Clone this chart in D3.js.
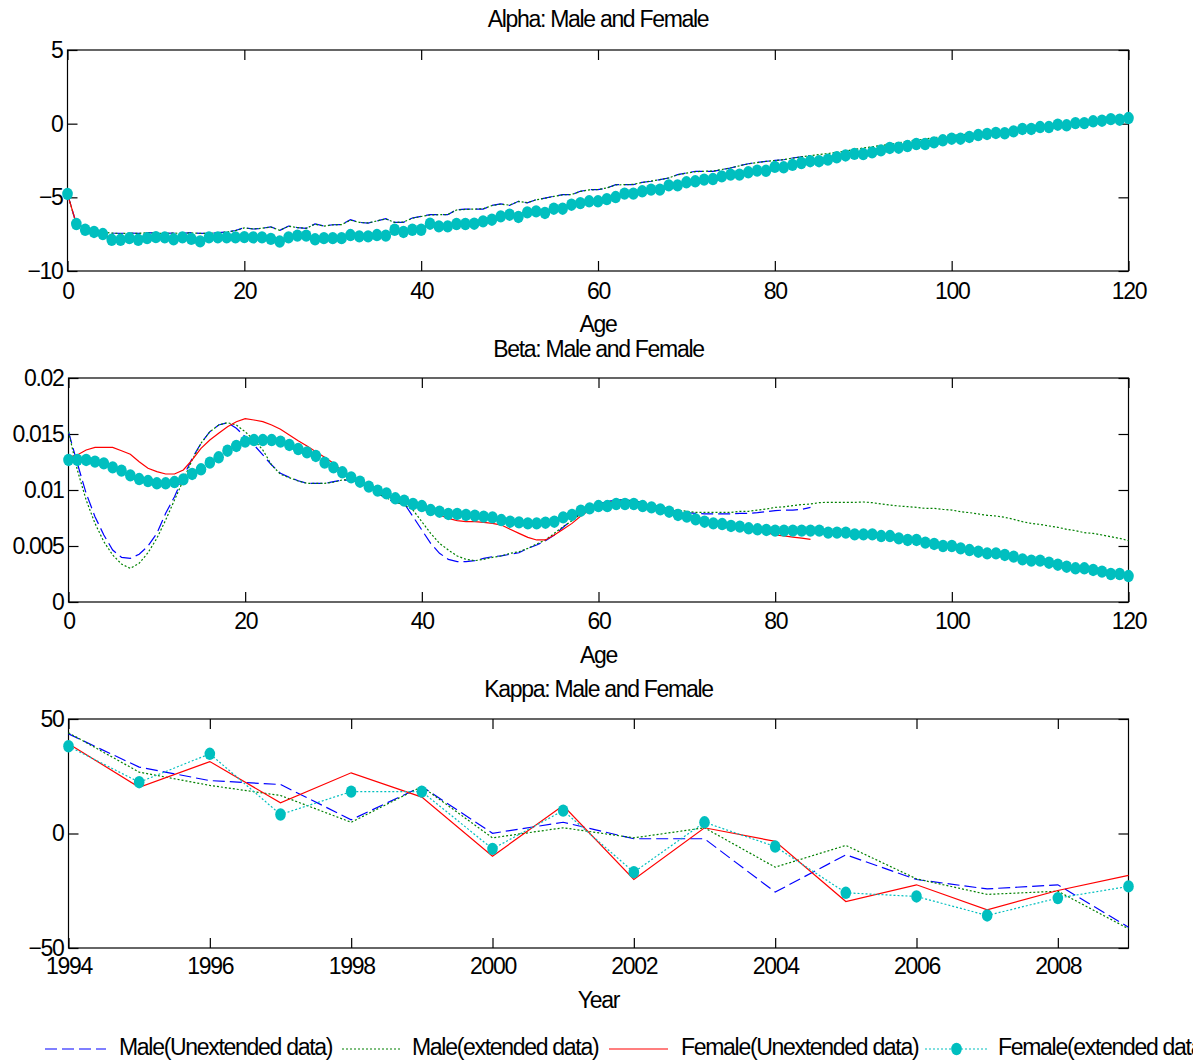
<!DOCTYPE html>
<html>
<head>
<meta charset="utf-8">
<script src="https://cdn.jsdelivr.net/npm/d3@7"></script>
<style>
  html, body { margin: 0; padding: 0; background: #fff; }
  svg { display: block; }
  text { font-family: "Liberation Sans", Arial, sans-serif; font-size: 23px; letter-spacing: -1.3px; fill: #000; }
</style>
</head>
<body>
<svg id="chart" width="1193" height="1064"></svg>
<script>
// ---------------- DATA ----------------
const legendLabels = ["Male(Unextended data)", "Male(extended data)", "Female(Unextended data)", "Female(extended data)"];
const panelTitles = ["Alpha: Male and Female", "Beta: Male and Female", "Kappa: Male and Female"];

// Ages 0..120 (extended data) ; unextended data covers ages 0..84
const agesExt = d3.range(0, 121);
const agesUnext = d3.range(0, 85);

const ageTicks = [0, 20, 40, 60, 80, 100, 120];
const alphaTicks = [-10, -5, 0, 5];
const betaTicks = [0, 0.005, 0.01, 0.015, 0.02];
const kappaTicksY = [-50, 0, 50];
const yearTicks = [1994, 1996, 1998, 2000, 2002, 2004, 2006, 2008];

// ---- Alpha ----
const alphaMaleUnext = [-4.77,-6.8,-7.1,-7.25,-7.35,-7.42,-7.45,-7.42,-7.45,-7.4,
  -7.42,-7.45,-7.42,-7.45,-7.4,-7.45,-7.45,-7.4,-7.35,-7.25,
  -7.06,-7.15,-7.1,-7.0,-7.25,-6.95,-7.05,-7.1,-6.8,-6.95,
  -6.86,-6.85,-6.52,-6.7,-6.75,-6.6,-6.45,-6.7,-6.7,-6.4,
  -6.29,-6.18,-6.18,-6.18,-5.84,-5.8,-5.8,-5.8,-5.55,-5.45,
  -5.55,-5.27,-5.38,-5.16,-5.05,-4.93,-4.82,-4.82,-4.59,-4.48,
  -4.48,-4.37,-4.14,-4.14,-4.14,-3.98,-3.91,-3.8,-3.69,-3.46,
  -3.35,-3.24,-3.24,-3.24,-3.12,-3.01,-2.85,-2.72,-2.63,-2.56,
  -2.49,-2.45,-2.33,-2.25,-2.16];
const alphaMaleExt = [-4.77,-6.82,-7.12,-7.27,-7.36,-7.43,-7.46,-7.43,-7.45,-7.41,
  -7.43,-7.45,-7.43,-7.45,-7.41,-7.45,-7.45,-7.41,-7.36,-7.26,
  -7.08,-7.15,-7.1,-7.02,-7.24,-6.97,-7.05,-7.1,-6.82,-6.95,
  -6.87,-6.85,-6.55,-6.7,-6.74,-6.6,-6.47,-6.7,-6.68,-6.42,
  -6.3,-6.2,-6.18,-6.17,-5.86,-5.82,-5.8,-5.78,-5.56,-5.46,
  -5.53,-5.28,-5.36,-5.17,-5.06,-4.94,-4.83,-4.81,-4.6,-4.5,
  -4.47,-4.36,-4.16,-4.14,-4.12,-3.99,-3.9,-3.8,-3.68,-3.47,
  -3.36,-3.26,-3.23,-3.22,-3.11,-3.0,-2.86,-2.73,-2.64,-2.56,
  -2.5,-2.44,-2.34,-2.25,-2.17,-2.1,-2.03,-1.95,-1.86,-1.75,
  -1.65,-1.57,-1.48,-1.4,-1.3,-1.2,-1.12,-1.04,-0.96,-0.88,
  -0.81,-0.75,-0.7,-0.64,-0.58,-0.52,-0.46,-0.4,-0.33,-0.26,
  -0.18,-0.14,-0.09,-0.04,0.0,0.04,0.1,0.16,0.24,0.31,0.38];
const alphaFemaleUnext = [-4.77,-6.8,-7.18,-7.33,-7.47,-7.85,-7.86,-7.76,-7.86,-7.76,
  -7.7,-7.72,-7.83,-7.72,-7.8,-7.96,-7.72,-7.72,-7.71,-7.71,
  -7.7,-7.71,-7.71,-7.8,-7.97,-7.72,-7.6,-7.61,-7.83,-7.76,
  -7.76,-7.76,-7.56,-7.64,-7.64,-7.56,-7.59,-7.22,-7.34,-7.21,
  -7.19,-6.8,-6.96,-6.96,-6.82,-6.8,-6.78,-6.63,-6.52,-6.3,
  -6.19,-6.32,-6.03,-5.96,-6.05,-5.78,-5.76,-5.51,-5.4,-5.28,
  -5.26,-5.12,-4.98,-4.76,-4.74,-4.6,-4.48,-4.47,-4.2,-4.18,
  -3.98,-3.92,-3.8,-3.75,-3.58,-3.47,-3.45,-3.3,-3.2,-3.19,
  -2.94,-2.95,-2.8,-2.67,-2.56];
const alphaFemaleExt = [-4.77,-6.81,-7.2,-7.35,-7.49,-7.88,-7.88,-7.77,-7.88,-7.77,
  -7.7,-7.72,-7.85,-7.72,-7.82,-7.99,-7.72,-7.72,-7.72,-7.72,
  -7.7,-7.72,-7.72,-7.82,-8.0,-7.72,-7.6,-7.6,-7.85,-7.77,
  -7.77,-7.77,-7.56,-7.65,-7.65,-7.56,-7.6,-7.2,-7.35,-7.2,
  -7.2,-6.79,-6.97,-6.97,-6.81,-6.81,-6.79,-6.63,-6.52,-6.29,
  -6.18,-6.33,-6.02,-5.95,-6.06,-5.77,-5.77,-5.5,-5.39,-5.27,
  -5.27,-5.12,-4.98,-4.75,-4.75,-4.59,-4.48,-4.48,-4.19,-4.19,
  -3.98,-3.91,-3.8,-3.76,-3.58,-3.46,-3.46,-3.3,-3.19,-3.2,
  -2.93,-2.96,-2.8,-2.67,-2.55,-2.55,-2.44,-2.28,-2.16,-2.05,
  -2.06,-1.95,-1.81,-1.65,-1.63,-1.52,-1.38,-1.38,-1.27,-1.13,
  -1.02,-1.02,-0.9,-0.77,-0.7,-0.63,-0.65,-0.52,-0.36,-0.36,
  -0.23,-0.23,-0.07,-0.11,0.04,0.04,0.16,0.2,0.31,0.27,0.38];

// ---- Beta ----
const betaMaleUnext = [0.0152,0.01238,0.0097,0.00762,0.00598,0.00464,0.00399,0.0039,0.00426,0.005,
  0.00613,0.00792,0.0094,0.01119,0.01283,0.01417,0.0152,0.0158,0.01601,0.01551,
  0.01476,0.01402,0.01313,0.01223,0.01149,0.01113,0.01083,0.0106,0.0106,0.0106,
  0.01074,0.01089,0.01089,0.0106,0.01015,0.0097,0.00926,0.00887,0.00881,0.00762,
  0.00643,0.00524,0.00435,0.00381,0.0036,0.0036,0.00369,0.0039,0.00405,0.00412,
  0.00426,0.0044,0.00479,0.00509,0.00547,0.00598,0.00667,0.00732,0.00792,0.00845,
  0.00875,0.00896,0.00911,0.00911,0.00905,0.00887,0.00866,0.00845,0.00827,0.00806,
  0.00798,0.00792,0.00786,0.00786,0.00786,0.00786,0.00792,0.00792,0.00798,0.00806,
  0.00815,0.00821,0.00821,0.00827,0.00845];
const betaMaleExt = [0.0152,0.01179,0.0091,0.00702,0.00539,0.0042,0.00339,0.003,0.00345,0.0044,
  0.00568,0.00732,0.0091,0.01089,0.01268,0.01417,0.0152,0.0158,0.01601,0.0158,
  0.0152,0.01446,0.01357,0.01223,0.0114,0.0111,0.0108,0.0106,0.0106,0.0106,
  0.0107,0.0109,0.0109,0.0106,0.0102,0.0097,0.0093,0.0089,0.0087,0.00821,
  0.00717,0.00613,0.00524,0.00464,0.00411,0.00381,0.00369,0.00381,0.00399,0.00411,
  0.00435,0.00449,0.00479,0.00518,0.00554,0.00613,0.00673,0.00726,0.00786,0.00836,
  0.00875,0.0089,0.0091,0.0091,0.009,0.0089,0.0087,0.0085,0.0083,0.0082,
  0.0081,0.008,0.008,0.008,0.008,0.008,0.0081,0.0081,0.0082,0.0083,
  0.00845,0.0085,0.0086,0.0087,0.00875,0.00887,0.0089,0.0089,0.0089,0.0089,
  0.00893,0.00887,0.00875,0.00866,0.00857,0.00851,0.00845,0.00836,0.00836,0.00827,
  0.00821,0.00806,0.00798,0.00786,0.00774,0.00768,0.00756,0.00738,0.00717,0.00702,
  0.00693,0.00679,0.00667,0.00649,0.00637,0.00619,0.00613,0.00598,0.00583,0.00568,0.00547];
const betaFemaleUnext = [0.01292,0.01313,0.01357,0.01381,0.01381,0.01381,0.01351,0.01319,0.01253,0.01194,
  0.01164,0.01143,0.01143,0.01179,0.01268,0.01372,0.01446,0.01506,0.01565,0.0161,
  0.01637,0.01625,0.0161,0.0158,0.01542,0.01491,0.0144,0.01393,0.01342,0.01292,
  0.01238,0.0117,0.0112,0.0107,0.0103,0.0099,0.0095,0.0092,0.0089,0.0086,
  0.0083,0.00806,0.00777,0.00747,0.00726,0.00717,0.00717,0.00711,0.00702,0.00687,
  0.00649,0.00613,0.00577,0.00554,0.00554,0.00598,0.00649,0.00702,0.00768,0.00821,
  0.00866,0.0089,0.009,0.009,0.0089,0.0087,0.0085,0.0083,0.008,0.0077,
  0.0075,0.0073,0.0071,0.0069,0.0068,0.0066,0.0065,0.0064,0.0063,0.0062,
  0.006,0.0059,0.0058,0.0057,0.0056];
const betaFemaleExt = [0.01268,0.01268,0.01268,0.01253,0.01238,0.01202,0.01173,0.01131,0.01098,0.0108,
  0.0106,0.0106,0.01071,0.01095,0.01143,0.01185,0.01244,0.01292,0.01351,0.01393,
  0.01432,0.01446,0.01446,0.01446,0.01432,0.01402,0.01366,0.01336,0.01304,0.01244,
  0.01202,0.01158,0.01113,0.01074,0.0103,0.00994,0.0097,0.00926,0.00905,0.00875,
  0.00857,0.00821,0.00806,0.00786,0.00786,0.00777,0.00771,0.00762,0.00756,0.00732,
  0.00717,0.00711,0.00702,0.00702,0.00708,0.00717,0.00756,0.00777,0.00815,0.00836,
  0.00857,0.00857,0.00875,0.00875,0.00875,0.00857,0.00845,0.00827,0.00806,0.00777,
  0.00762,0.00738,0.00717,0.00702,0.00696,0.00679,0.00673,0.00658,0.00649,0.00643,
  0.00637,0.00637,0.00637,0.00637,0.00637,0.00637,0.00619,0.00619,0.00619,0.00604,
  0.00604,0.00604,0.00589,0.00589,0.00568,0.00554,0.00554,0.0053,0.00518,0.005,
  0.005,0.00479,0.00464,0.00449,0.00434,0.00434,0.0042,0.00405,0.00381,0.00369,
  0.00369,0.00351,0.00333,0.00315,0.00301,0.00301,0.00286,0.00271,0.0025,0.0025,0.00232];

// ---- Kappa ----
const years = [1994,1995,1996,1997,1998,1999,2000,2001,2002,2003,2004,2005,2006,2007,2008,2009];
const kappaMaleUnext   = [43.5, 29.0, 23.1, 21.4, 6.0, 20.5, 0.1, 4.9, -2.3, -2.3, -25.6, -9.3, -20.1, -24.2, -22.4, -40.9];
const kappaMaleExt     = [44.0, 26.8, 21.0, 16.6, 4.9, 20.5, -1.9, 2.5, -1.9, 2.5, -14.7, -5.2, -19.8, -26.6, -25.2, -41.6];
const kappaFemaleUnext = [39.2, 20.2, 31.4, 13.4, 26.5, 15.9, -9.9, 12.2, -20.1, 2.5, -3.4, -29.7, -22.4, -33.3, -24.9, -18.3];
const kappaFemaleExt   = [38.1, 22.4, 34.8, 8.3, 18.3, 18.3, -6.7, 10.0, -16.9, 4.9, -5.7, -25.9, -27.5, -35.8, -28.2, -23.1];

// ---------------- STYLES ----------------
const S = {
  maleUnext:   { stroke: "#0000ff", dash: "12,5" },
  maleExt:     { stroke: "#008000", dash: "2,2" },
  femaleUnext: { stroke: "#ff0000", dash: null },
  femaleExt:   { stroke: "#00bfbf", dash: "2,2" }
};
const dotColor = "#00bfbf";

const svg = d3.select("#chart");

function drawPanel(cfg) {
  const { x0, x1, yTop, yBot, xDomain, yDomain, xTicks, yTicks, yFormat, title, titleY, xLabel, xLabelY, labelPad, series, dots, dotLine } = cfg;
  const x = d3.scaleLinear().domain(xDomain).range([x0, x1]);
  const y = d3.scaleLinear().domain(yDomain).range([yBot, yTop]);
  const g = svg.append("g");

  // Frame
  g.append("rect").attr("x", x0).attr("y", yTop).attr("width", x1 - x0).attr("height", yBot - yTop)
    .attr("fill", "none").attr("stroke", "#000").attr("stroke-width", 1.2);

  const styleAxis = sel => {
    sel.select(".domain").remove();
    sel.selectAll(".tick line").attr("stroke", "#000").attr("stroke-width", 1.2);
    sel.selectAll("text").attr("font-family", null).attr("font-size", null);
    sel.attr("font-family", null).attr("font-size", null);
  };

  g.append("g").attr("transform", `translate(0,${yBot})`)
    .call(d3.axisBottom(x).tickValues(xTicks).tickSize(-10).tickPadding(labelPad).tickFormat(d3.format("d")))
    .call(styleAxis);
  g.append("g").attr("transform", `translate(0,${yTop})`)
    .call(d3.axisTop(x).tickValues(xTicks).tickSize(-10).tickFormat(""))
    .call(styleAxis);
  g.append("g").attr("transform", `translate(${x0},0)`)
    .call(d3.axisLeft(y).tickValues(yTicks).tickSize(-10).tickPadding(5).tickFormat(yFormat))
    .call(styleAxis);
  g.append("g").attr("transform", `translate(${x1},0)`)
    .call(d3.axisRight(y).tickValues(yTicks).tickSize(-10).tickFormat(""))
    .call(styleAxis);

  // Title + x label
  g.append("text").attr("x", (x0 + x1) / 2).attr("y", titleY).attr("text-anchor", "middle")
    .attr("dominant-baseline", "middle").text(title);
  g.append("text").attr("x", (x0 + x1) / 2).attr("y", xLabelY).attr("text-anchor", "middle")
    .attr("dominant-baseline", "middle").text(xLabel);

  // Series lines
  const line = d3.line().x(d => x(d[0])).y(d => y(d[1]));
  series.forEach(s => {
    const pts = s.xs.map((v, i) => [v, s.ys[i]]);
    g.append("path").datum(pts).attr("d", line).attr("fill", "none")
      .attr("stroke", s.style.stroke).attr("stroke-width", 1.2)
      .attr("stroke-dasharray", s.style.dash);
  });

  // Dotted series (female extended)
  const dpts = dots.xs.map((v, i) => [v, dots.ys[i]]);
  if (dotLine) {
    g.append("path").datum(dpts).attr("d", line).attr("fill", "none")
      .attr("stroke", S.femaleExt.stroke).attr("stroke-width", 1.2)
      .attr("stroke-dasharray", S.femaleExt.dash);
  }
  g.selectAll("circle.dot").data(dpts).join("ellipse").attr("class", "dot")
    .attr("cx", d => x(d[0])).attr("cy", d => y(d[1]))
    .attr("rx", 5.3).attr("ry", 6.2).attr("fill", dotColor);
}

const fmtBeta = d => d === 0 ? "0" : d3.format("~g")(d);

drawPanel({
  x0: 67.5, x1: 1128.5, yTop: 50, yBot: 271,
  xDomain: [0, 120], yDomain: [-10, 5], xTicks: ageTicks, yTicks: alphaTicks, yFormat: d3.format("d"),
  title: panelTitles[0], titleY: 21, xLabel: "Age", xLabelY: 326, labelPad: 12,
  series: [
    { xs: agesUnext, ys: alphaMaleUnext, style: S.maleUnext },
    { xs: agesExt, ys: alphaMaleExt, style: S.maleExt },
    { xs: agesUnext, ys: alphaFemaleUnext, style: S.femaleUnext }
  ],
  dots: { xs: agesExt, ys: alphaFemaleExt }, dotLine: false
});

drawPanel({
  x0: 68.5, x1: 1128.5, yTop: 378, yBot: 602,
  xDomain: [0, 120], yDomain: [0, 0.02], xTicks: ageTicks, yTicks: betaTicks, yFormat: fmtBeta,
  title: panelTitles[1], titleY: 351, xLabel: "Age", xLabelY: 657, labelPad: 11,
  series: [
    { xs: agesUnext, ys: betaMaleUnext, style: S.maleUnext },
    { xs: agesExt, ys: betaMaleExt, style: S.maleExt },
    { xs: agesUnext, ys: betaFemaleUnext, style: S.femaleUnext }
  ],
  dots: { xs: agesExt, ys: betaFemaleExt }, dotLine: false
});

drawPanel({
  x0: 68.5, x1: 1128.5, yTop: 719, yBot: 948,
  xDomain: [1994, 2009], yDomain: [-50, 50], xTicks: yearTicks, yTicks: kappaTicksY, yFormat: d3.format("d"),
  title: panelTitles[2], titleY: 691, xLabel: "Year", xLabelY: 1002, labelPad: 10,
  series: [
    { xs: years, ys: kappaMaleUnext, style: S.maleUnext },
    { xs: years, ys: kappaMaleExt, style: S.maleExt },
    { xs: years, ys: kappaFemaleUnext, style: S.femaleUnext }
  ],
  dots: { xs: years, ys: kappaFemaleExt }, dotLine: true
});

// ---------------- LEGEND ----------------
const legendY = 1049;
const legendItems = [
  { label: legendLabels[0], style: S.maleUnext, lx0: 45, lx1: 106, tx: 119, dot: false },
  { label: legendLabels[1], style: S.maleExt, lx0: 342, lx1: 400, tx: 412, dot: false },
  { label: legendLabels[2], style: S.femaleUnext, lx0: 609, lx1: 668, tx: 681, dot: false },
  { label: legendLabels[3], style: S.femaleExt, lx0: 925, lx1: 988, tx: 998, dot: true }
];
const lg = svg.append("g");
legendItems.forEach(it => {
  lg.append("line").attr("x1", it.lx0).attr("x2", it.lx1).attr("y1", legendY).attr("y2", legendY)
    .attr("stroke", it.style.stroke).attr("stroke-width", 1.2).attr("stroke-dasharray", it.style.dash);
  if (it.dot) {
    lg.append("ellipse").attr("cx", (it.lx0 + it.lx1) / 2).attr("cy", legendY).attr("rx", 5.3).attr("ry", 6.2).attr("fill", dotColor);
  }
  lg.append("text").attr("x", it.tx).attr("y", legendY).attr("dominant-baseline", "middle").text(it.label);
});
</script>
</body>
</html>
